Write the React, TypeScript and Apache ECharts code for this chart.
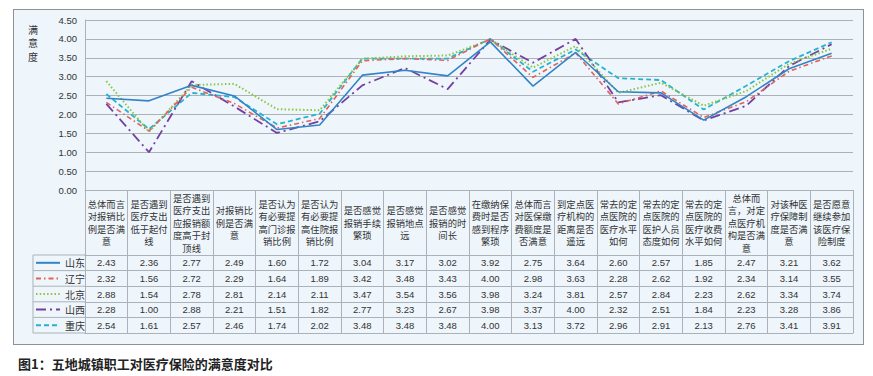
import React, { useEffect, useRef } from "react";
import * as echarts from "echarts";

const categories: string[] = [
  "总体而言\n对报销比\n例是否满\n意",
  "是否遇到\n医疗支出\n低于起付\n线",
  "是否遇到\n医疗支出\n应报销额\n度高于封\n顶线",
  "对报销比\n例是否满\n意",
  "是否认为\n有必要提\n高门诊报\n销比例",
  "是否认为\n有必要提\n高住院报\n销比例",
  "是否感觉\n报销手续\n繁琐",
  "是否感觉\n报销地点\n远",
  "是否感觉\n报销的时\n间长",
  "在缴纳保\n费时是否\n感到程序\n繁琐",
  "总体而言\n对医保缴\n费额度是\n否满意",
  "到定点医\n疗机构的\n距离是否\n遥远",
  "常去的定\n点医院的\n医疗水平\n如何",
  "常去的定\n点医院的\n医护人员\n态度如何",
  "常去的定\n点医院的\n医疗收费\n水平如何",
  "总体而\n言，对定\n点医疗机\n构是否满\n意",
  "对该种医\n疗保障制\n度是否满\n意",
  "是否愿意\n继续参加\n该医疗保\n险制度",
];

const seriesNames: string[] = ["山东", "辽宁", "北京", "山西", "重庆"];

const shandong = [2.43, 2.36, 2.77, 2.49, 1.6, 1.72, 3.04, 3.17, 3.02, 3.92, 2.75, 3.64, 2.6, 2.57, 1.85, 2.47, 3.21, 3.62];
const liaoning = [2.32, 1.56, 2.72, 2.29, 1.64, 1.89, 3.42, 3.48, 3.43, 4.0, 2.98, 3.63, 2.28, 2.62, 1.92, 2.34, 3.14, 3.55];
const beijing = [2.88, 1.54, 2.78, 2.81, 2.14, 2.11, 3.47, 3.54, 3.56, 3.98, 3.24, 3.81, 2.57, 2.84, 2.23, 2.62, 3.34, 3.74];
const shanxi = [2.28, 1.0, 2.88, 2.21, 1.51, 1.82, 2.77, 3.23, 2.67, 3.98, 3.37, 4.0, 2.32, 2.51, 1.84, 2.23, 3.28, 3.86];
const chongqing = [2.54, 1.61, 2.57, 2.46, 1.74, 2.02, 3.48, 3.48, 3.48, 4.0, 3.13, 3.72, 2.96, 2.91, 2.13, 2.76, 3.41, 3.91];

const seriesValues: number[][] = [shandong, liaoning, beijing, shanxi, chongqing];

const yTicks = { min: 0, max: 4.5, interval: 0.5 };

const caption = "图1：五地城镇职工对医疗保险的满意度对比";
const yTitleChars: string[] = ["满", "意", "度"];

const colors = ["#3483C6", "#E0625B", "#8CC63F", "#7440A0", "#24B3D0"];
const dashTypes: any[] = ["solid", [5, 3, 1.5, 3], [1.5, 2.2], [10, 4, 2, 4], [5, 3]];
const widths = [1.6, 1.6, 2, 1.8, 1.8];

const GRID_LEFT = 85;
const GRID_TOP = 20;
const GRID_RIGHT = 20;
const GRID_BOTTOM_Y = 190;
const HEADER_H = 65;
const ROW_H = 15.6;
const LEGEND_LEFT = 33;
const LINE_COLOR = "#ABB2B9";
const FONT = "'Liberation Sans', 'Noto Sans CJK SC', sans-serif";
const CJK = "'Noto Sans CJK SC', sans-serif";

export default function App() {
  const ref = useRef<HTMLDivElement>(null);
  useEffect(() => {
    if (!ref.current) return;
    const chart = echarts.init(ref.current, undefined, { renderer: "svg" });
    const tableTop = GRID_BOTTOM_Y + HEADER_H;
    const tableBottom = tableTop + ROW_H * seriesNames.length;

    const xAxes: any[] = [
      {
        type: "category",
        data: categories,
        position: "bottom",
        boundaryGap: true,
        axisLine: { show: true, lineStyle: { color: LINE_COLOR } },
        axisTick: {
          show: true,
          length: HEADER_H + ROW_H * seriesNames.length,
          lineStyle: { color: LINE_COLOR },
        },
        axisLabel: {
          interval: 0,
          margin: HEADER_H / 2,
          verticalAlign: "middle",
          fontSize: 9.3,
          lineHeight: 12.5,
          color: "#333",
          fontFamily: CJK,
        },
      },
    ];
    seriesValues.forEach((vals, i) => {
      xAxes.push({
        type: "category",
        data: vals.map((v) => v.toFixed(2)),
        position: "bottom",
        offset: HEADER_H + ROW_H * i,
        boundaryGap: true,
        axisLine: { show: true, lineStyle: { color: LINE_COLOR } },
        axisTick: { show: false },
        axisLabel: {
          interval: 0,
          margin: ROW_H / 2,
          verticalAlign: "middle",
          fontSize: 9.5,
          color: "#333",
          fontFamily: FONT,
        },
      });
    });
    xAxes.push({
      type: "category",
      data: categories.map(() => ""),
      position: "bottom",
      offset: HEADER_H + ROW_H * seriesNames.length,
      boundaryGap: true,
      axisLine: { show: true, lineStyle: { color: LINE_COLOR } },
      axisTick: { show: false },
      axisLabel: { show: false },
    });

    const legendLines: any[] = [];
    for (let k = 0; k <= seriesNames.length; k++) {
      const y = tableTop + ROW_H * k;
      legendLines.push({
        type: "line",
        shape: { x1: LEGEND_LEFT, y1: y, x2: GRID_LEFT, y2: y },
        style: { stroke: LINE_COLOR, lineWidth: 1 },
        silent: true,
      });
    }
    legendLines.push({
      type: "line",
      shape: { x1: LEGEND_LEFT, y1: tableTop, x2: LEGEND_LEFT, y2: tableBottom },
      style: { stroke: LINE_COLOR, lineWidth: 1 },
      silent: true,
    });

    const titleTexts = yTitleChars.map((ch, i) => ({
      type: "text",
      left: 28,
      top: 24 + i * 13.5,
      style: { text: ch, fontSize: 10, fill: "#333", fontFamily: CJK },
    }));

    chart.setOption({
      animation: false,
      textStyle: { fontFamily: FONT },
      title: {
        text: caption,
        left: 13,
        top: 352,
        textStyle: { fontSize: 13, fontWeight: "bold", color: "#222", fontFamily: CJK },
      },
      legend: {
        data: seriesNames,
        orient: "vertical",
        left: 35,
        top: tableTop + 1,
        padding: 0,
        itemWidth: 24,
        itemHeight: 13.6,
        itemGap: 2,
        itemStyle: { color: "rgba(0,0,0,0)", borderWidth: 0, opacity: 0 },
        textStyle: { fontSize: 10, color: "#333", fontFamily: CJK, lineHeight: 13.6 },
      },
      grid: {
        left: GRID_LEFT,
        right: GRID_RIGHT,
        top: GRID_TOP,
        bottom: 376 - GRID_BOTTOM_Y,
      },
      xAxis: xAxes,
      yAxis: {
        type: "value",
        min: yTicks.min,
        max: yTicks.max,
        interval: yTicks.interval,
        axisLine: { show: true, lineStyle: { color: LINE_COLOR } },
        axisTick: { show: false },
        splitLine: { show: true, lineStyle: { color: LINE_COLOR, width: 1 } },
        axisLabel: {
          formatter: (v: number) => v.toFixed(2),
          fontSize: 9.5,
          margin: 8,
          color: "#333",
          fontFamily: FONT,
        },
      },
      graphic: [...titleTexts, ...legendLines],
      series: seriesNames.map((name, i) => ({
        name,
        type: "line",
        xAxisIndex: 0,
        data: seriesValues[i],
        symbol: "none",
        itemStyle: { color: colors[i] },
        lineStyle: { color: colors[i], width: widths[i], type: dashTypes[i] },
        z: 5 - i,
      })),
    });
    return () => chart.dispose();
  }, []);

  return (
    <div style={{ position: "absolute", left: 0, top: 0, width: 873, height: 376, background: "#fff" }}>
      <div
        style={{
          position: "absolute",
          left: 13,
          top: 9,
          width: 849,
          height: 334,
          border: "1px solid #8E9298",
          background: "#EEF6FC",
        }}
      />
      <div ref={ref} style={{ position: "absolute", left: 0, top: 0, width: 873, height: 376 }} />
    </div>
  );
}
